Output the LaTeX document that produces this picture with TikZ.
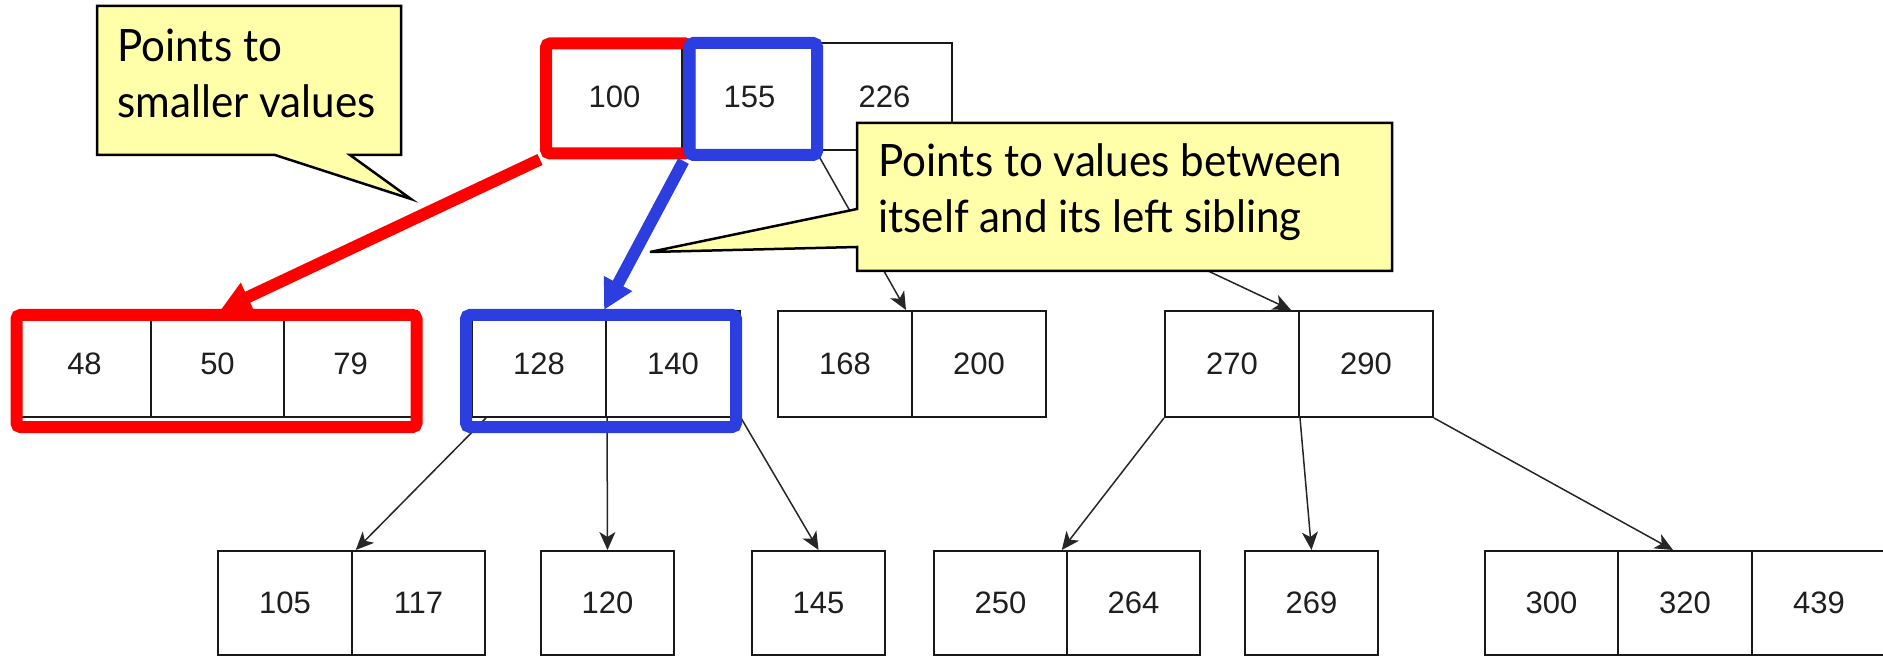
\documentclass[tikz,border=0pt]{standalone}
\usepackage{fontspec}
\setmainfont{Lato}
\newfontfamily\notefont[FakeStretch=0.945]{Lato}
\newfontfamily\numfont{Liberation Sans}
\usetikzlibrary{arrows.meta}
\definecolor{hlred}{RGB}{255,0,0}
\definecolor{hlblue}{RGB}{44,62,224}
\definecolor{noteyellow}{RGB}{255,255,170}
\begin{document}
\begin{tikzpicture}[x=0.5pt,y=-0.5pt,
  cell/.style={draw=black!90, line width=1pt, minimum width=67pt, minimum height=53pt,
    inner sep=0pt, font=\numfont\fontsize{15.5}{17}\selectfont, text=black!88},
  rootcell/.style={cell, minimum width=67.5pt, minimum height=53.5pt},
  midcell/.style={cell, minimum width=67pt, minimum height=53pt},
  leafcell/.style={cell, minimum width=66.75pt, minimum height=52pt},
  link/.style={draw=black!85, line width=0.75pt, -{Stealth[length=9pt,width=8pt,inset=2.5pt]}},
  hlbox/.style={draw, line width=6pt, rounded corners=2pt, inner sep=0pt},
  hlarrow/.style={line width=6pt, -{Triangle[length=15pt,width=15pt]}},
  note/.style={draw=black, line width=1.25pt, fill=noteyellow},
  notetext/.style={anchor=base west, inner sep=0pt, font=\notefont\fontsize{22.3}{28}\selectfont}
]
\useasboundingbox (0,0) rectangle (1883,657);

% root
\node[rootcell] (r1) at (614.5,96.5) {100};
\node[rootcell] (r2) at (749.5,96.5) {155};
\node[rootcell] (r3) at (884.5,96.5) {226};

% middle row
\node[midcell, minimum width=66.5pt] (m1a) at (84.5,364) {48};
\node[midcell, minimum width=66.5pt] (m1b) at (217.5,364) {50};
\node[midcell, minimum width=66.5pt] (m1c) at (350.5,364) {79};
\node[midcell] (m2a) at (539,364) {128};
\node[midcell] (m2b) at (673,364) {140};
\node[midcell] (m3a) at (845,364) {168};
\node[midcell] (m3b) at (979,364) {200};
\node[midcell] (m4a) at (1232,364) {270};
\node[midcell] (m4b) at (1366,364) {290};

% leaf row
\node[leafcell] (b1a) at (285,603) {105};
\node[leafcell] (b1b) at (418.5,603) {117};
\node[leafcell] (b2) at (607.5,603) {120};
\node[leafcell] (b3) at (818.5,603) {145};
\node[leafcell] (b4a) at (1000.5,603) {250};
\node[leafcell] (b4b) at (1133.5,603) {264};
\node[leafcell] (b5) at (1311.5,603) {269};
\node[leafcell] (b6a) at (1551.5,603) {300};
\node[leafcell] (b6b) at (1685,603) {320};
\node[leafcell] (b6c) at (1819,603) {439};

% thin connectors
\draw[link] (r3.south west) -- ([xshift=-3.5pt]m3a.north east);
\draw[link] (r3.south east) -- ([xshift=-4.5pt]m4a.north east);
\draw[link] ([xshift=7.5pt]m2a.south west) -- ([xshift=1.5pt]b1a.north east);
\draw[link] (m2a.south east) -- (b2.north);
\draw[link] (m2b.south east) -- (b3.north);
\draw[link] (m4a.south west) -- ([xshift=-2pt]b4b.north west);
\draw[link] (m4a.south east) -- (b5.north);
\draw[link] (m4b.south east) -- ([xshift=-6pt]b6b.north);

% highlight boxes
\node[hlbox, draw=hlred, minimum width=71.5pt, minimum height=55pt] (hlA) at (617.5,98.5) {};
\node[hlbox, draw=hlblue, minimum width=63.75pt, minimum height=56pt] (hlB) at (753.25,99) {};
\node[hlbox, draw=hlred, minimum width=200pt, minimum height=56pt] (hlC) at (216.5,371) {};
\node[hlbox, draw=hlblue, minimum width=135pt, minimum height=56pt] (hlD) at (601,371) {};

% highlight arrows
\draw[hlarrow, draw=hlred, fill=hlred] (hlA.south west) -- ([xshift=1.5pt]m1b.north);
\draw[hlarrow, draw=hlblue, fill=hlblue] (hlB.south west) -- ([xshift=-1.5pt]m2a.north east);

% callouts
\draw[note] (97,6) -- (401,6) -- (401,155) -- (350,155) -- (411,199) -- (275,155) -- (97,155) -- cycle;
\node[notetext] (n1a) at (117,62) {Points to};
\node[notetext] (n1b) at (117,118) {smaller values};

\draw[note] (857,123) -- (1392,123) -- (1392,271) -- (857,271) -- (857,247) -- (650,252) -- (857,209) -- cycle;
\node[notetext] (n2a) at (878,177) {Points to values between};
\node[notetext] (n2b) at (878,233) {itself and its left sibling};
\end{tikzpicture}
\end{document}
